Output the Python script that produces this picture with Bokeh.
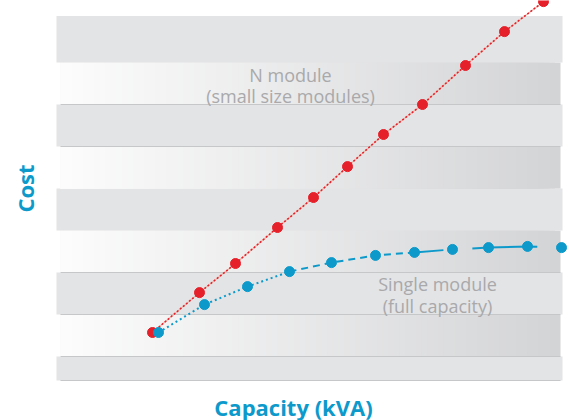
import math

import numpy as np
from bokeh.embed import file_html
from bokeh.models import Label, Range1d
from bokeh.plotting import figure
from bokeh.resources import INLINE

# Capacity (kVA) and relative cost for the two build-out strategies
n_module_kva = [20, 43.5, 61.5, 82.5, 100.5, 117.5, 135.5, 155, 176.5, 196, 215.5]
n_module_cost = [16, 29.3, 39, 51, 61, 71.3, 82, 92, 105, 116.3, 126.3]

single_kva = [23, 46, 67.5, 88.5, 109.5, 131.5, 151, 170, 188, 207.5, 224.5]
single_cost = [16, 25.3, 31.3, 36.3, 39.3, 41.7, 42.7, 43.7, 44.3, 44.7, 44.3]

BLUE = "#0d9acb"
RED = "#e5202a"

p = figure(
    width=569, height=420, min_border=0,
    x_range=Range1d(-56, 228.5), y_range=Range1d(-13.33, 126.67),
    toolbar_location=None, output_backend="svg",
)
p.xaxis.visible = False
p.yaxis.visible = False
p.xgrid.grid_line_color = None
p.ygrid.grid_line_color = None
p.outline_line_color = None
p.background_fill_color = "white"
p.border_fill_color = "white"

# Horizontal background bands: plain grey alternating with a white-to-grey fade
band_edges = [0, 8, 22, 36, 50, 64, 78, 92, 106, 121.5]
x_left, x_right = -28, 225
for i in range(len(band_edges) - 1):
    b, t = band_edges[i], band_edges[i + 1]
    if i % 2 == 0:
        p.quad(left=x_left, right=x_right, bottom=b, top=t,
               fill_color="#e3e4e6", line_color=None)
    else:
        # fade drawn as overlapping strips, each starting at the band's left edge
        n = 90
        x0, x1 = x_left + 2, x_right - 1
        rights = np.linspace(x0, x1, n + 1)[1:]
        c0 = np.array([0xfc, 0xfc, 0xfc])
        c1 = np.array([0xd3, 0xd4, 0xd6])
        lefts, rs, cols = [], [], []
        for k in range(n - 1, -1, -1):
            f = k / (n - 1)
            c = (c0 + (c1 - c0) * f).round().astype(int)
            lefts.append(x0)
            rs.append(rights[k])
            cols.append("#%02x%02x%02x" % tuple(c))
        p.quad(left=lefts, right=rs, bottom=b, top=t,
               fill_color=cols, line_color=None)

# Thin shadow lines along some band edges
for yv in [0, 8, 22, 36, 78, 92]:
    p.line([x_left + 2, x_right - 1], [yv, yv], line_color="#c6c7c9", line_width=1.2)

# N module series: dotted red line with a faint underlay
p.line(n_module_kva, n_module_cost, line_color="#f3b4a6", line_width=1.2)
p.line(n_module_kva, n_module_cost, line_color=RED, line_width=1.6, line_dash="2 2")
p.scatter(n_module_kva, n_module_cost, size=10, marker="circle",
          fill_color=RED, line_color=RED)

# Single module series: dotted, then dashed, then long dashes
p.line(single_kva[:4], single_cost[:4], line_color=BLUE, line_width=2, line_dash="2 3")
p.line(single_kva[3:7], single_cost[3:7], line_color=BLUE, line_width=2, line_dash="7 5")
p.line(single_kva[6:], single_cost[6:], line_color=BLUE, line_width=2,
       line_dash="29 29 65 40")
p.scatter(single_kva, single_cost, size=10, marker="circle",
          fill_color=BLUE, line_color=BLUE)

# Series annotations
note = dict(text_font="Open Sans", text_font_size="18px", text_color="#a9a9ab",
            text_align="center", text_baseline="middle")
p.add_layout(Label(x=89, y=102, text="N module", **note))
p.add_layout(Label(x=89, y=95, text="(small size modules)", **note))
p.add_layout(Label(x=162.5, y=32.3, text="Single module", **note))
p.add_layout(Label(x=162.5, y=24.7, text="(full capacity)", **note))

# Axis titles
title = dict(text_font="Open Sans", text_font_size="22px", text_font_style="bold",
             text_color=BLUE, text_align="center", text_baseline="middle",
             x_units="screen", y_units="screen")
p.add_layout(Label(x=24, y=232, text="Cost", angle=math.pi / 2, **title))
p.add_layout(Label(x=293, y=14, text="Capacity (kVA)", **title))

open("out.html", "w").write(file_html(p, INLINE))
